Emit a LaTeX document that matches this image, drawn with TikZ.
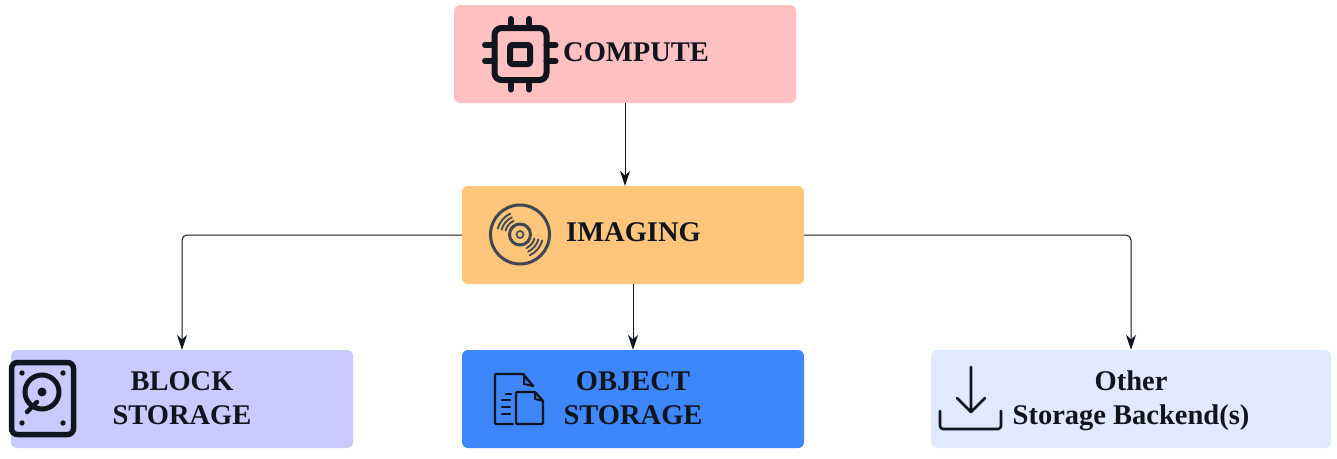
\documentclass[tikz,border=0pt]{standalone}
\usepackage{fontspec}
\setmainfont{Liberation Serif}
\usetikzlibrary{arrows.meta}
\definecolor{ink}{HTML}{10141C}
\definecolor{disc}{HTML}{3F4654}
\definecolor{cpink}{HTML}{FFC0C1}
\definecolor{corange}{HTML}{FEC57B}
\definecolor{cviolet}{HTML}{C9CAFE}
\definecolor{cblue}{HTML}{3E87FB}
\definecolor{cpale}{HTML}{E0EAFE}
\newcommand{\topline}{\rule{0pt}{24pt}}
\newcommand{\botline}{\rule[-8pt]{0pt}{8pt}}
\tikzset{
  x=1pt,y=-1pt,
  boxn/.style={minimum width=342pt,minimum height=98pt,rounded corners=6pt,inner sep=0pt,align=center,text=ink,
    font=\fontsize{28.5}{34}\selectfont\bfseries},
  lab/.style={inner sep=0pt,anchor=base west,text=ink,font=\fontsize{28.5}{34}\selectfont\bfseries},
  conn/.style={draw=ink,line width=1pt,rounded corners=5pt,-{Stealth[length=15pt,width=10pt]}},
  thick icon/.style={draw=ink,line width=6pt,line cap=round,line join=round},
  thin icon/.style={draw=ink,line width=2.4pt,line cap=round,line join=round},
}
\begin{document}
\begin{tikzpicture}
\useasboundingbox (0,0) rectangle (1337,458);
\node[boxn,fill=cpink] (compute) at (625,54) {};
\node[boxn,fill=corange] (imaging) at (633,235) {};
\node[boxn,fill=cviolet] (block) at (182,399) {\topline BLOCK\\STORAGE\botline};
\node[boxn,fill=cblue] (object) at (633,399) {\topline OBJECT\\STORAGE\botline};
\node[boxn,fill=cpale,minimum width=400pt] (other) at (1131,399) {\topline Other\\Storage Backend(s)\botline};
\node[lab] (computel) at (563,61) {COMPUTE};
\node[lab] (imagingl) at (566,241) {IMAGING};
% connectors
\draw[conn] (compute.south) -- (compute.south |- imaging.north);
\draw[conn] (imaging.west) -| (block.north);
\draw[conn] (imaging.south) -- (object.north);
\draw[conn] (imaging.east) -| (other.north);
% chip icon
\draw[thick icon,rounded corners=7pt] (494.5,28) rectangle (546.5,80);
\draw[thick icon,rounded corners=1.5pt] (510,45) rectangle (530,64);
\foreach \p in {511,529}{\draw[thick icon] (\p,19) -- (\p,28) (\p,80) -- (\p,89.5);}
\foreach \p in {45,61}{\draw[thick icon] (485,\p) -- (494.5,\p) (546.5,\p) -- (555.5,\p);}
% disc icon
\draw[disc,line width=3pt] (520,234.5) circle (29.5);
\draw[disc,line width=3pt] (520,234.5) circle (10.5);
\draw[disc,line width=1.6pt] (520,234.5) circle (3.5);
\foreach \r in {15,19,23}{
  \draw[disc,line width=1.8pt,line cap=round] (520,234.5) ++(195:\r) arc (195:245:\r);
  \draw[disc,line width=1.8pt,line cap=round] (520,234.5) ++(15:\r) arc (15:65:\r);
}
% drive icon
\draw[thick icon,line width=5.5pt,rounded corners=6pt] (11.5,362.5) rectangle (73.5,434.5);
\draw[ink,line width=5pt] (42,392) circle (17);
\fill[ink] (42,392) circle (4.5);
\foreach \a/\b in {22/373,63/373,22/423,63/423}{\fill[ink] (\a,\b) circle (2.7);}
\draw[ink,line width=4.5pt,line cap=round] (27,412) -- (37,402);
% documents icon
\draw[thin icon,rounded corners=1pt] (513,424) -- (495,424) -- (495,374) -- (523,374) -- (533,386);
\draw[thin icon,line width=2pt] (524,374) -- (524,384) -- (533,386);
\draw[thin icon,rounded corners=1pt] (535,392) -- (516,392) -- (516,424) -- (543,424) -- (543,401) -- cycle;
\draw[thin icon,line width=2pt] (535,392) -- (535,399) -- (543,401);
\draw[thin icon] (506,394) -- (511,394) (502,400) -- (510,400) (502,407) -- (510,407) (502,414) -- (510,414);
% download icon
\draw[ink,line width=2.6pt,line cap=round,line join=round] (971,367) -- (971,412) (957,398) -- (971,412) -- (985,398);
\draw[ink,line width=2.6pt,line cap=round,line join=round,rounded corners=3pt] (940,411) -- (940,429) -- (1001,429) -- (1001,411);
\end{tikzpicture}
\end{document}
